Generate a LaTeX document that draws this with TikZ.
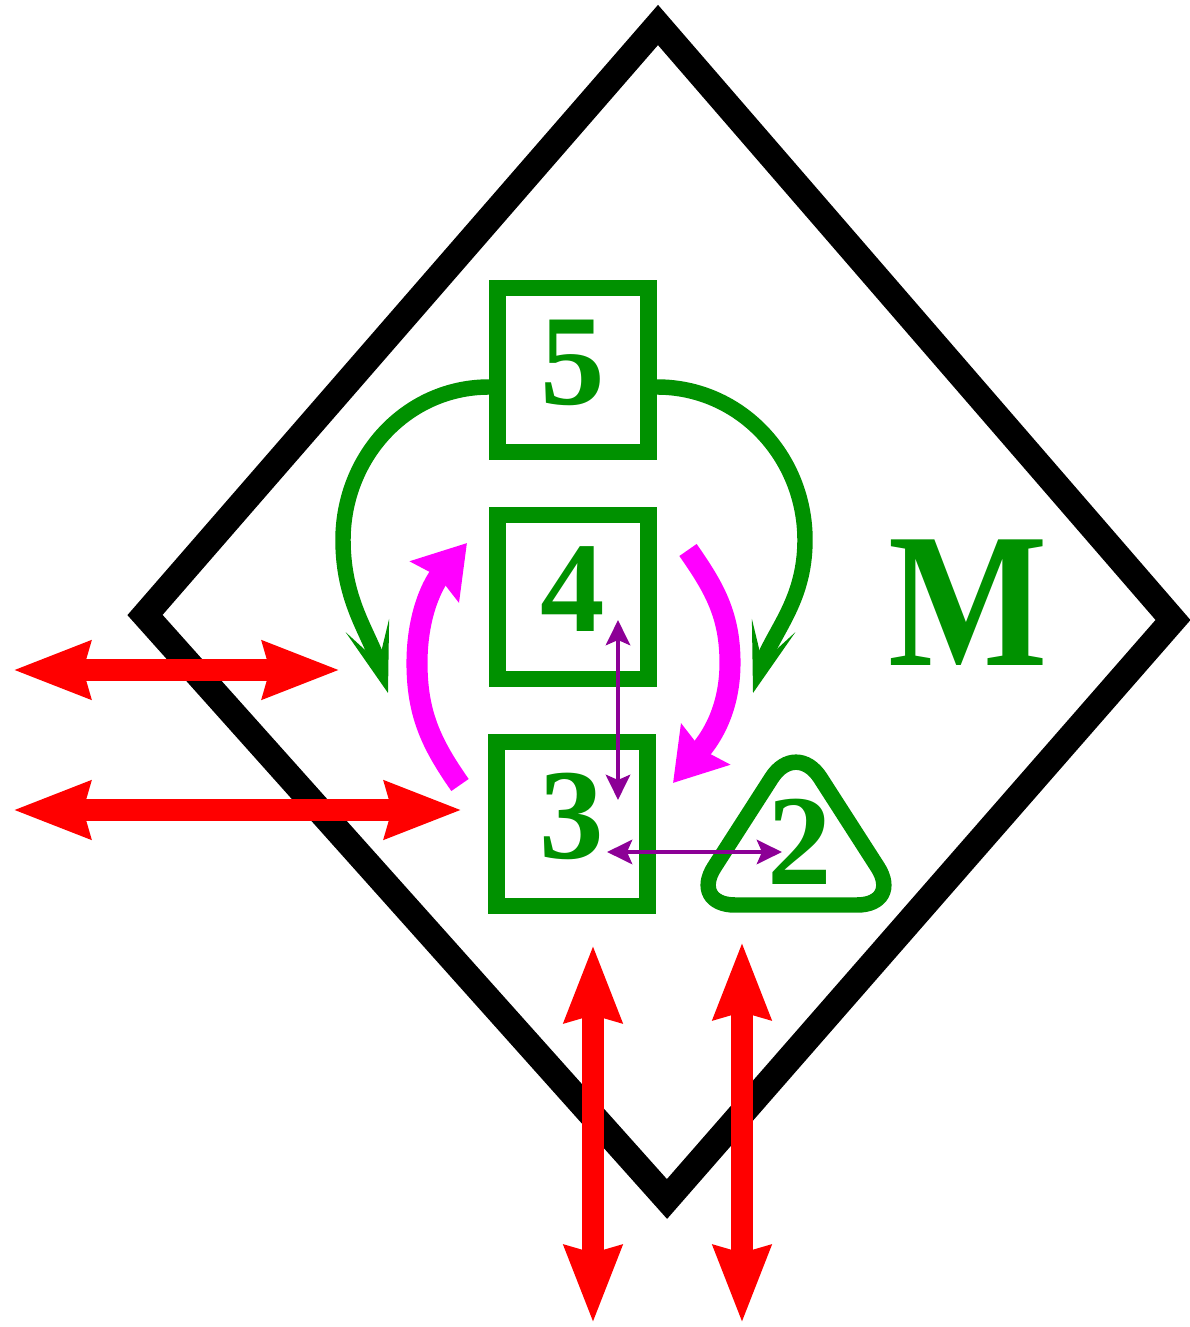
\documentclass[tikz,border=0pt]{standalone}
\usepackage{fontspec}
\setmainfont{Liberation Serif}
\usetikzlibrary{arrows.meta, calc}
\definecolor{dgreen}{RGB}{0,145,0}
\definecolor{purp}{RGB}{140,0,150}
\definecolor{pink}{RGB}{255,0,255}
\begin{document}
\begin{tikzpicture}[
        box/.style={draw=dgreen, line width=4.8pt, minimum width=1.51cm,
            minimum height=1.64cm, inner sep=0pt, text depth=0.16cm,
            text=dgreen, font=\fontsize{36.7}{40}\selectfont\bfseries},
        loopback/.style={draw=dgreen, line width=4.4pt,
            -{Stealth[length=0.7cm, width=0.45cm, inset=0.38cm]}},
        swap/.style={draw=pink, line width=6pt,
            -{Stealth[length=0.5cm, width=0.62cm, inset=0.06cm]}},
        link/.style={draw=purp, line width=1.4pt,
            >={Stealth[length=0.25cm, width=0.24cm, inset=0.05cm]}, <->},
        flow/.style={draw=red, line width=6.3pt,
            >={Stealth[length=0.76cm, width=0.55cm, inset=0.06cm]}, <->}]
        \useasboundingbox (0,0) rectangle (11.90,13.27);

        \coordinate (T) at (6.58, 13.02);
        \coordinate (R) at (11.73, 7.07);
        \coordinate (B) at (6.67, 1.28);
        \coordinate (L) at (1.45, 7.12);

        \draw[line width=7.5pt, line join=miter] (T) -- (R) -- (B) -- (L) -- cycle;

        \node[box] (s5) at (5.73, 9.57) {5};
        \node[box] (s4) at (5.73, 7.30) {4};
        \node[box] (s3) at (5.72, 5.03) {3};
        \draw[dgreen, line width=4.4pt, rounded corners=0.45cm]
            (6.90, 4.22) -- (9.02, 4.22) -- (7.96, 5.87) -- cycle;
        \node[text=dgreen, font=\fontsize{36.7}{40}\selectfont\bfseries] (t2) at (8.00, 4.85) {2};
        \node[text=dgreen, font=\fontsize{54.6}{60}\selectfont\bfseries] (m) at (9.68, 7.24) {\scalebox{0.88}[1]{M}};

        \coordinate (G1) at (3.43, 7.87);
        \coordinate (G2) at (3.88, 6.34);
        \coordinate (G3) at (8.05, 7.87);
        \coordinate (G4) at (7.53, 6.34);
        \draw[loopback] ($(s5.west)+(0,-0.17)$) to[out=180, in=90] (G1)
            to[out=-90, in=107] (G2);
        \draw[loopback] ($(s5.east)+(0,-0.17)$) to[out=0, in=90] (G3)
            to[out=-90, in=73] (G4);

        \coordinate (M1) at (4.60, 5.42);
        \coordinate (M2) at (4.17, 6.64);
        \coordinate (M3) at (4.67, 7.84);
        \coordinate (M4) at (6.88, 7.77);
        \coordinate (M5) at (7.30, 6.64);
        \coordinate (M6) at (6.73, 5.44);
        \draw[swap] (M1) to[out=125, in=-90] (M2) to[out=90, in=-130] (M3);
        \draw[swap] (M4) to[out=-55, in=90] (M5) to[out=-90, in=50] (M6);

        \coordinate (P1) at (6.18, 7.07);
        \coordinate (P2) at (6.18, 5.27);
        \coordinate (P3) at (6.07, 4.75);
        \coordinate (P4) at (7.82, 4.75);
        \draw[link] (P1) -- (P2);
        \draw[link] (P3) -- (P4);

        \coordinate (A1) at (0.13, 6.57);
        \coordinate (A2) at (3.40, 6.57);
        \coordinate (A3) at (0.13, 5.17);
        \coordinate (A4) at (4.62, 5.17);
        \coordinate (A5) at (5.93, 3.82);
        \coordinate (A6) at (5.93, 0.04);
        \coordinate (A7) at (7.42, 3.85);
        \coordinate (A8) at (7.42, 0.04);
        \draw[flow] (A1) -- (A2);
        \draw[flow] (A3) -- (A4);
        \draw[flow] (A5) -- (A6);
        \draw[flow] (A7) -- (A8);
    \end{tikzpicture}
\end{document}
